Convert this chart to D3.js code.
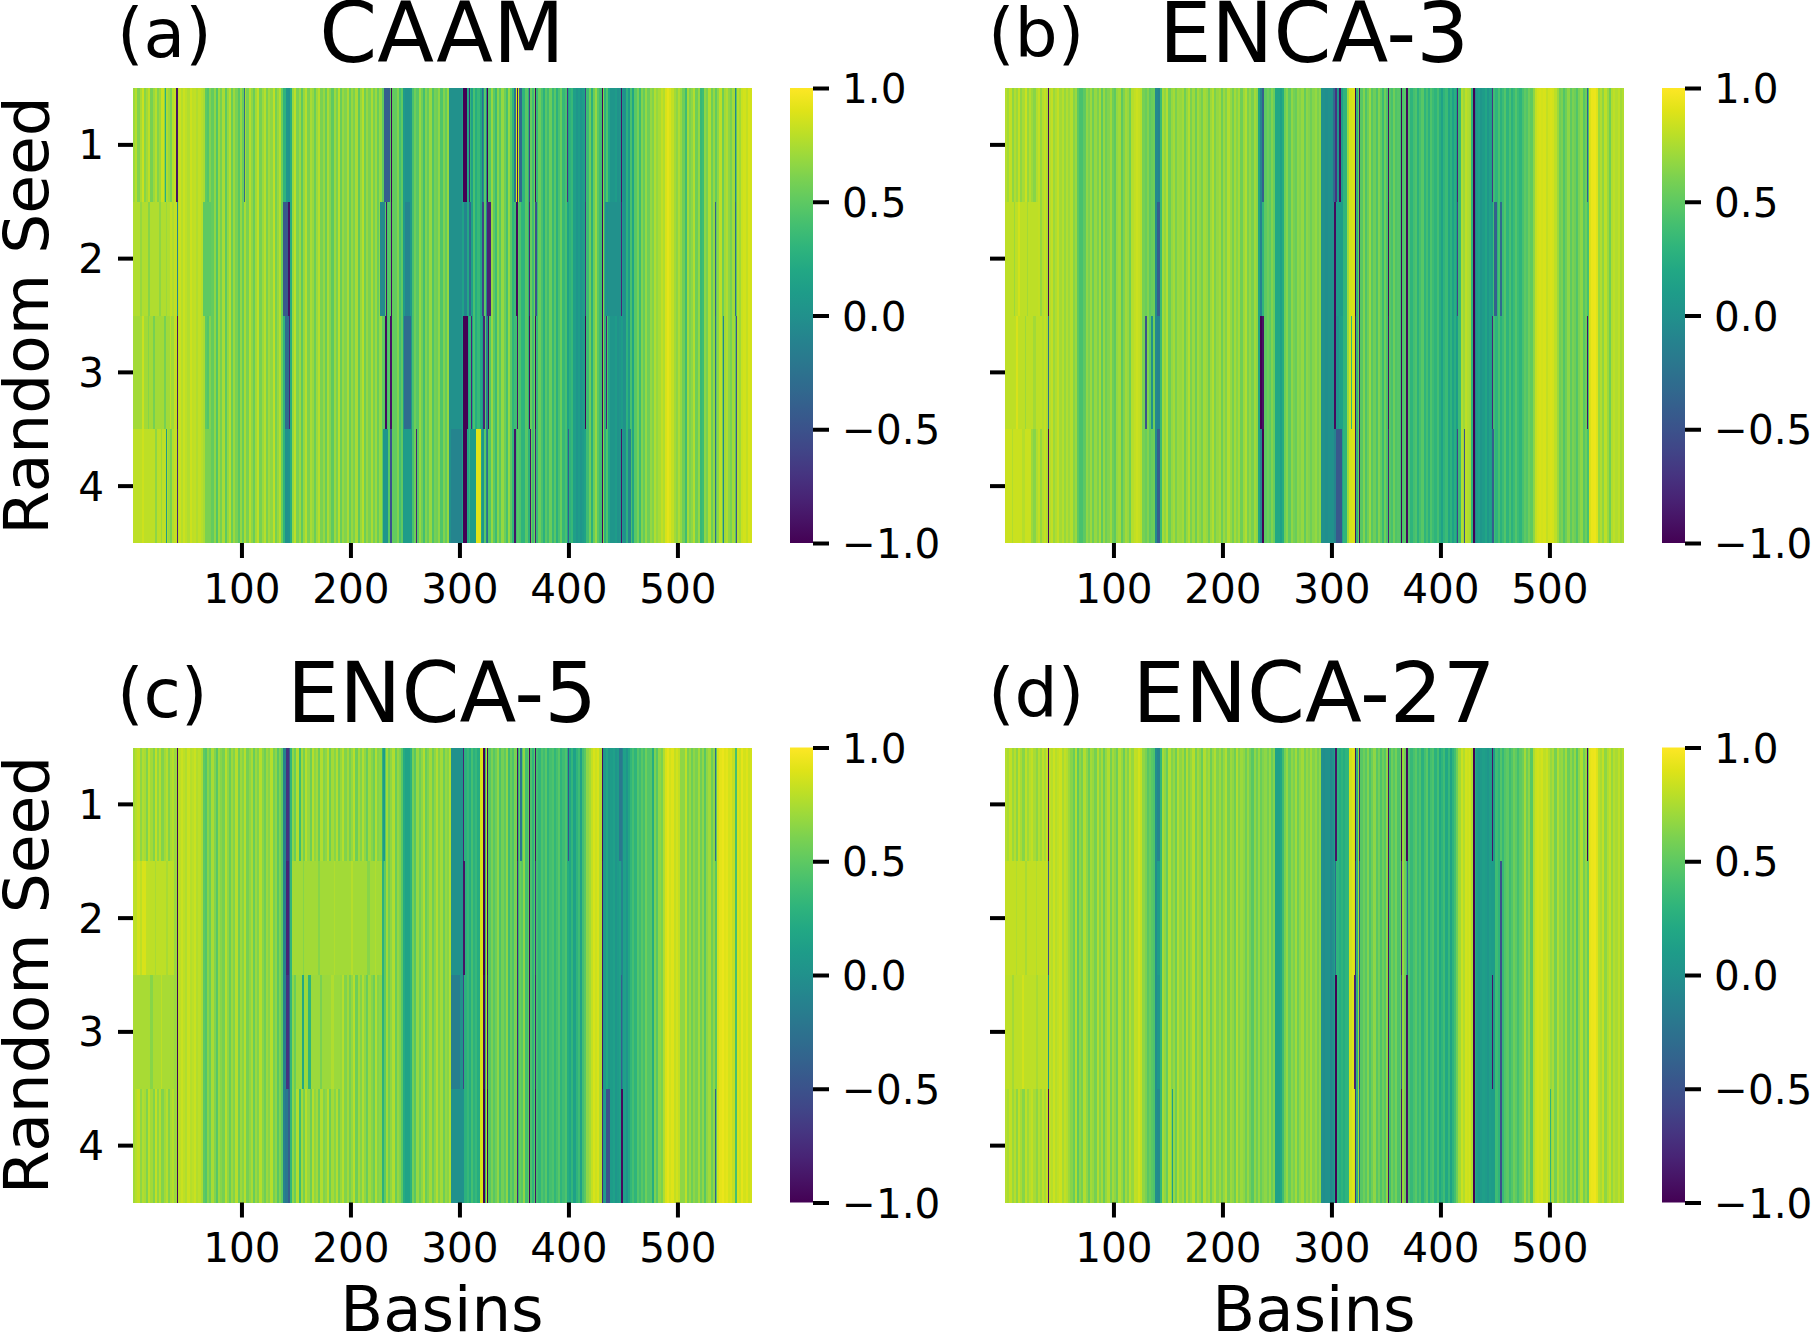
<!DOCTYPE html>
<html>
<head>
<meta charset="utf-8">
<title>Basin correlation heatmaps</title>
<script src="https://cdn.jsdelivr.net/npm/d3@7"></script>
<style>
  html, body { margin: 0; padding: 0; background: #fff; }
  svg { display: block; font-family: "DejaVu Sans", sans-serif; }
</style>
</head>
<body>
<div id="chart"></div>
<script>
// Values. One number per two basins, shared by all seeds of a panel
const caamBase = [
  .7,.78,.62,.74,.84,.64,.72,.8,.58,.7,.78,.62,.7,.84,.66,.76,.7,.6,.78,.82,
  .8,.84,.78,.84,.8,.76,.85,.8,.82,.76,.82,.78,.74,.5,.46,.62,.52,.66,.46,.7,
  .58,.74,.5,.68,.78,.54,.7,.6,.48,.68,.54,.74,.6,.78,.66,.54,.72,.8,.58,.7,
  .78,.6,.72,.66,.8,.58,.68,.78,.54,.3,.05,.03,.25,.68,.8,.6,.7,.5,.68,.78,
  .6,.74,.68,.54,.7,.78,.6,.68,.54,.74,.64,.5,.7,.6,.78,.54,.68,.62,.74,.54,
  .68,.6,.74,.5,.68,.78,.56,.68,.6,.74,.58,.7,.54,.68,.5,.48,.42,.48,.48,.52,
  .52,.62,.4,.5,.08,.03,.03,.08,.42,.56,.48,.68,.56,.4,.62,.52,.68,.45,.58,.56,
  .66,.45,.62,.52,.68,0,0,0,0,0,0,.15,.1,.2,.32,.14,.42,.24,.35,.18,
  .05,.48,-.1,.46,.68,.5,.38,.64,.48,.68,.56,.42,.68,.5,.3,.38,.48,.44,.3,.3,
  .48,.28,.54,.38,.56,.34,.54,.42,.28,.48,.38,.54,.34,.48,.28,.42,.54,.34,.42,.15,
  .28,.34,.12,.05,.1,.05,.1,.15,.38,.56,.28,.54,.68,.48,.38,.64,.28,.44,.18,.05,
  .05,.1,0,.05,.1,0,.28,.1,.42,.18,.48,.58,.38,.62,.52,.68,.56,.68,.62,.76,
  .68,.74,.82,.76,.88,.92,.88,.82,.72,.66,.76,.68,.56,.38,.72,.6,.66,.76,.56,.68,
  .34,.38,.66,.6,.76,.56,.68,.52,.66,.8,.56,.72,.76,.66,.6,.72,.48,.78,.72,.84,
  .86,.82,.88,.86
];
const encaThreeBase = [
  .78,.72,.82,.66,.76,.7,.82,.66,.74,.84,.68,.78,.7,.64,.76,.82,.68,.78,.82,.76,
  .78,.82,.7,.76,.82,.72,.78,.68,.76,.7,.78,.64,.7,.5,.42,.42,.5,.66,.6,.7,
  .56,.68,.6,.72,.5,.68,.56,.62,.7,.56,.5,.68,.72,.5,.62,.72,.68,.56,.78,.82,
  .84,.82,.78,.58,.54,.62,.5,.54,.56,-.05,-.1,.36,.72,.66,.76,.56,.68,.72,.6,.7,
  .68,.72,.56,.68,.76,.6,.7,.56,.72,.66,.58,.72,.68,.56,.7,.76,.6,.68,.72,.56,
  .7,.62,.76,.68,.58,.72,.64,.72,.56,.7,.76,.6,.68,.58,.72,.66,.18,-.1,.3,.5,
  .56,.5,.62,.54,.2,.2,.14,.24,.56,.64,.5,.66,.58,.54,.66,.62,.68,.52,.66,.62,
  .56,.64,.68,.6,.66,0,0,-.02,0,.02,0,-.2,.05,.12,.14,.3,.3,.7,.86,.88,
  .88,.3,.56,.48,.62,.44,.56,.68,.48,.56,.44,.62,.52,.36,.56,.44,.48,.42,.56,.44,
  .48,.38,.44,.48,.36,.44,.3,.4,.44,.28,.4,.48,.3,.4,.28,.44,.36,.3,.4,.26,
  .15,.3,.36,.18,.3,.15,.26,.1,.36,.76,.7,.8,.76,.74,.3,-.1,.1,.14,.05,.1,
  .18,.05,.14,.1,.38,.3,.42,.28,.36,.46,.3,.42,.28,.36,.46,.36,.3,.42,.5,.46,
  .56,.5,.66,.82,.86,.88,.86,.88,.82,.86,.88,.86,.8,.7,.56,.6,.46,.56,.66,.5,
  .6,.56,.46,.6,.66,.48,.56,.42,.88,.93,.94,.9,.7,.76,.66,.8,.7,.56,.76,.8,
  .76,.8,.72,.76
];
const encaFiveBase = [
  .72,.78,.82,.66,.76,.74,.62,.8,.72,.62,.82,.66,.78,.62,.72,.78,.62,.74,.78,.7,
  .78,.8,.84,.8,.76,.84,.78,.8,.84,.76,.8,.74,.5,.46,.64,.54,.74,.62,.48,.7,
  .64,.58,.78,.66,.54,.7,.62,.78,.56,.7,.64,.78,.58,.66,.74,.54,.7,.62,.78,.64,
  .56,.7,.64,.78,.58,.66,.48,.62,.5,-.1,-.45,-.4,.32,.66,.54,.76,.38,.72,.58,.78,
  .68,.56,.78,.66,.72,.56,.76,.62,.66,.78,.56,.72,.64,.76,.58,.68,.78,.62,.72,.58,
  .68,.78,.56,.72,.62,.76,.66,.54,.72,.64,.56,.76,.62,.66,.28,.5,.72,.56,.66,.76,
  .54,.68,.62,.48,.22,.16,.16,.28,.58,.48,.68,.56,.66,.76,.54,.62,.72,.56,.66,.76,
  .62,.72,.56,.68,.64,.76,0,0,0,0,0,.02,.28,.34,.24,.4,.28,.34,.24,.88,
  .9,.32,.78,.48,.6,.48,.56,.66,.44,.58,.5,.66,.38,.54,.44,.6,.3,.54,.48,.66,
  .4,.54,.44,.3,.48,.4,.32,.44,.38,.48,.3,.4,.44,.32,.4,.48,.3,.38,.44,.24,
  .18,.32,.14,.3,.38,.14,.4,.48,.66,.72,.82,.88,.84,.88,.76,.05,.1,.18,.05,.1,
  .14,.05,.1,.14,-.1,.14,.05,.18,.32,.4,.3,.46,.38,.48,.4,.56,.46,.48,.24,.6,
  .48,.66,.6,.76,.88,.92,.86,.9,.82,.86,.82,.66,.66,.8,.6,.68,.56,.66,.6,.72,
  .56,.66,.48,.66,.72,.56,.66,.48,.86,.92,.94,.9,.92,.86,.88,.82,.4,.88,.84,.92,
  .86,.9,.84,.86
];
const encaTwentySevenBase = [
  .78,.74,.82,.7,.78,.66,.82,.74,.64,.8,.7,.78,.82,.74,.66,.78,.7,.8,.74,.82,
  .82,.78,.85,.78,.82,.85,.74,.82,.78,.7,.64,.54,.76,.5,.66,.58,.76,.66,.54,.72,
  .68,.58,.76,.62,.72,.54,.68,.76,.58,.72,.66,.56,.76,.68,.54,.72,.62,.78,.68,.82,
  .8,.86,.82,.66,.6,.48,.54,.48,.44,-.02,-.1,.32,.72,.66,.54,.76,.62,.68,.56,.76,
  .66,.72,.56,.76,.62,.68,.78,.58,.72,.66,.54,.76,.66,.72,.56,.68,.76,.62,.7,.58,
  .68,.76,.58,.7,.66,.56,.76,.62,.7,.66,.56,.68,.58,.48,.66,.56,.68,.54,.62,.66,
  .58,.68,.54,.62,.14,.14,.18,.38,.58,.68,.54,.66,.6,.72,.56,.66,.72,.58,.68,.62,
  .72,.62,.68,.58,.66,0,-.02,0,.02,-.05,0,.14,.3,.24,.3,.24,.3,.3,.86,.9,
  .86,.3,.72,.48,.56,.48,.62,.44,.56,.66,.48,.58,.44,.56,.48,.66,.4,.56,.48,.58,
  .44,.54,.68,.56,.38,.44,.34,.42,.48,.36,.44,.28,.4,.48,.28,.4,.44,.28,.4,.2,
  .3,.38,.2,.34,.15,.3,.4,.56,.72,.84,.76,.86,.84,.86,.76,.24,.1,.05,.08,.12,
  .1,.05,.12,.1,.1,.38,.3,.46,.34,.46,.5,.38,.46,.56,.5,.4,.5,.56,.72,.56,
  .66,.48,.76,.84,.86,.84,.86,.8,.84,.76,.68,.74,.58,.76,.66,.68,.58,.72,.54,.66,
  .56,.68,.48,.66,.76,.58,.68,.54,.92,.94,.95,.9,.78,.74,.82,.66,.76,.82,.68,.78,
  .74,.8,.72,.78
];

// Per seed differences from the base: [first basin, end basin, value]
const caamSeeds = [
  [[29,30,.25],[39,41,-.9],[102,103,-.3],[230,236,-.4],[237,238,-1],[303,306,-1],[308,309,-.8],[320,321,-.3],[325,326,-1],[350,351,-.2],[351,352,.9],[352,353,-.9],[353,354,.85],[354,357,-.3],[363,364,-.6],[369,370,-.95],[398,399,-.7],[415,416,-.6],[430,431,-1],[448,449,-.9],[552,553,-.1]],
  [[0,38,.76],[6,8,.68],[14,16,.64],[24,26,.66],[30,31,.7],[34,36,.82],[40,41,-.1],[64,72,.5],[138,142,-.45],[142,144,-.9],[227,231,-.05],[232,233,-.9],[237,238,-.95],[250,254,-.1],[304,306,-.1],[308,310,-.3],[320,322,-.6],[325,328,-.8],[351,353,-.95],[363,364,-.8],[369,371,-.5],[415,416,-.7],[430,431,-1],[433,448,0],[448,449,-.8],[534,535,-.4],[552,553,-.3]],
  [[0,38,.72],[8,10,.84],[14,15,.64],[18,20,.58],[28,30,.58],[34,35,.8],[40,41,-.9],[139,143,-.3],[143,144,-.8],[231,233,-.95],[236,238,-.9],[249,255,-.3],[303,307,-1],[310,311,-.8],[321,323,-.8],[326,327,-.95],[352,353,-.9],[363,364,-.95],[369,370,-.95],[415,416,-1],[430,431,-1],[434,435,-.8],[534,535,-.3],[541,542,-.1],[553,554,-.5]],
  [[0,30,.8],[8,10,.85],[20,22,.66],[26,27,.7],[30,31,.1],[40,41,-.8],[66,72,.6],[139,142,0],[229,234,.05],[236,238,-.5],[249,255,.1],[260,261,-.8],[292,302,-.1],[303,306,-1],[309,315,.1],[315,319,.9],[325,326,-.3],[350,351,-.9],[364,365,-.9],[369,370,-.8],[399,400,-.4],[430,431,-1],[448,449,-.9],[454,457,-.1],[534,535,-.3],[541,542,-.1],[553,554,-.5]]
];
const encaThreeSeeds = [
  [[39,40,-.95],[236,238,-.4],[301,303,-.3],[303,305,-.7],[306,308,-.9],[321,322,-1],[325,326,-.9],[351,352,-.9],[363,364,-1],[368,370,-.95],[415,416,-.8],[429,431,-1],[447,448,-.7],[534,535,-.4]],
  [[0,30,.8],[8,9,.7],[12,14,.86],[20,21,.72],[39,40,-.95],[139,142,-.4],[302,304,-.95],[304,310,.1],[321,322,-1],[325,326,-.9],[351,352,-.95],[363,364,-1],[368,370,-.95],[415,416,-.6],[429,431,-1],[449,451,-.4],[454,456,-.3]],
  [[0,34,.8],[10,12,.88],[18,19,.7],[26,28,.72],[39,40,-.3],[128,130,-.5],[134,136,0],[139,142,-.1],[234,236,-1],[236,238,-.9],[302,304,-.95],[317,318,.3],[321,322,-.9],[325,326,-.9],[351,352,-.9],[363,364,-1],[368,370,-.95],[429,431,-1],[447,448,-.8],[534,535,-.9]],
  [[0,24,.84],[6,7,.76],[16,18,.78],[39,40,-.95],[139,142,-.4],[236,238,-1],[302,304,-.1],[304,309,-.45],[321,322,-.9],[325,326,-.95],[351,352,-.8],[363,364,-1],[368,370,-.95],[415,416,-.6],[421,422,-.5],[429,431,-1],[447,449,-.4]]
];
const encaFiveSeeds = [
  [[40,41,-1],[140,143,-.7],[229,231,.1],[303,304,-.8],[321,323,-1],[325,326,-.95],[352,353,-.9],[355,357,-.2],[363,364,-1],[369,370,-.9],[399,400,-.5],[430,431,-.95],[446,449,-.2],[534,535,-.3]],
  [[0,38,.8],[4,6,.86],[8,12,.88],[20,21,.74],[30,32,.74],[40,41,-1],[140,143,-.8],[146,228,.72],[156,157,.64],[170,172,.64],[184,185,.76],[200,202,.78],[215,217,.64],[222,223,.76],[303,305,-.9],[321,323,-1],[325,326,-.95],[352,353,-.8],[363,364,-1],[369,370,-.7],[430,431,-.9]],
  [[0,38,.74],[16,18,.64],[26,27,.8],[40,41,-1],[140,143,-.7],[150,190,.7],[155,157,.2],[161,163,.3],[172,173,.6],[182,184,.76],[292,300,-.15],[303,304,-.6],[321,323,-.95],[325,326,-.9],[352,353,-.8],[363,364,-1],[369,370,-.8],[430,431,-.9],[448,449,-.4]],
  [[40,41,-1],[139,142,-.2],[321,323,-1],[325,326,-1],[352,353,-.8],[363,364,-1],[369,370,-.9],[430,431,-.8],[434,438,-.5],[448,450,-.95],[534,535,-.4]]
];
const encaTwentySevenSeeds = [
  [[39,40,-.95],[139,142,-.1],[303,305,-.9],[321,322,-.9],[325,326,-.8],[351,352,-.9],[363,364,-1],[368,370,-.95],[429,431,-1],[447,448,-.9],[534,535,-1]],
  [[0,38,.82],[10,11,.76],[18,20,.74],[28,29,.76],[39,40,-.5],[139,142,.1],[303,304,-.3],[321,322,-.8],[325,326,-.5],[351,352,-.9],[363,364,-.8],[369,370,-.3],[429,431,-1],[454,456,-.5]],
  [[0,38,.8],[6,8,.72],[16,17,.86],[28,30,.74],[39,40,.05],[139,142,.05],[303,305,-1],[320,322,-.8],[325,326,-.6],[351,352,-.9],[363,364,-.5],[368,370,-.9],[429,431,-1],[447,448,-.9],[454,456,-.5]],
  [[39,40,-.95],[139,142,-.05],[153,154,.1],[303,305,-1],[321,322,-.7],[325,326,-.3],[351,352,-.9],[363,364,-.9],[368,370,-.9],[429,431,-1],[454,456,-.5],[500,501,.3]]
];

const panelLetters = ["(a)", "(b)", "(c)", "(d)"];
const panelTitles = ["CAAM", "ENCA-3", "ENCA-5", "ENCA-27"];
const panelBases = [caamBase, encaThreeBase, encaFiveBase, encaTwentySevenBase];
const panelSeeds = [caamSeeds, encaThreeSeeds, encaFiveSeeds, encaTwentySevenSeeds];
const seedLabels = [1, 2, 3, 4];
const basinTicks = [100, 200, 300, 400, 500];
const colorTicks = [-1, -0.5, 0, 0.5, 1];
const basinCount = 567;

const width = 1812;
const height = 1336;
const plotWidth = 618;
const plotHeight = 455;
const panelLeft = [133, 1005];
const panelTop = [88, 747.5];
const tickFont = 40.5;

const svg = d3.select("#chart").append("svg")
  .attr("width", width)
  .attr("height", height);

const color = d3.scaleSequential(d3.interpolateViridis).domain([-1, 1]);

// Colorbar gradient
const gradient = svg.append("defs").append("linearGradient")
  .attr("id", "viridis")
  .attr("x1", 0).attr("y1", 1)
  .attr("x2", 0).attr("y2", 0);
gradient.selectAll("stop")
  .data(d3.range(0, 1.01, 0.05))
  .enter()
  .append("stop")
  .attr("offset", d => d)
  .attr("stop-color", d => d3.interpolateViridis(d));

// Every basin of a seed: base value, then that seed's differences
function seedRow(base, edits) {
  const row = d3.range(basinCount).map(i => base[i >> 1]);
  edits.forEach(([start, end, value]) => {
    for (let i = start; i < end; i++) row[i] = value;
  });
  return row;
}

function styleAxis(axisGroup) {
  axisGroup.select(".domain").remove();
  axisGroup.selectAll("line").attr("stroke", "#000").attr("stroke-width", 4);
  axisGroup.selectAll("text")
    .attr("fill", "#000")
    .attr("font-size", tickFont)
    .attr("font-family", '"DejaVu Sans", sans-serif');
}

function drawPanel(index) {
  const col = index % 2;
  const rowIndex = Math.floor(index / 2);
  const left = panelLeft[col];
  const top = panelTop[rowIndex];
  const g = svg.append("g").attr("transform", `translate(${left},${top})`);

  const x = d3.scaleLinear().domain([0, basinCount]).range([0, plotWidth]);
  const y = d3.scaleBand().domain(seedLabels).range([0, plotHeight]);

  // Cells
  seedLabels.forEach((seed, s) => {
    g.append("g")
      .attr("shape-rendering", "crispEdges")
      .selectAll("rect")
      .data(seedRow(panelBases[index], panelSeeds[index][s]))
      .enter()
      .append("rect")
      .attr("x", (d, i) => x(i))
      .attr("y", y(seed))
      .attr("width", (d, i) => x(i + 1) - x(i) + 0.5)
      .attr("height", y.bandwidth())
      .attr("fill", d => color(d));
  });

  // Axes, basin n sits in the middle of its cell
  const xAxis = d3.axisBottom(x)
    .tickValues(basinTicks.map(d => d - 0.5))
    .tickFormat(d => d + 0.5)
    .tickSize(15)
    .tickPadding(16);
  const xGroup = g.append("g").attr("transform", `translate(0,${plotHeight})`).call(xAxis);
  styleAxis(xGroup);

  const yAxis = d3.axisLeft(y)
    .tickSize(15)
    .tickPadding(14)
    .tickFormat(d => col === 0 ? d : "");
  const yGroup = g.append("g").call(yAxis);
  styleAxis(yGroup);
  yGroup.selectAll("text").attr("dy", "0.36em");

  // Colorbar
  const bar = g.append("g").attr("transform", `translate(${plotWidth + 39},0)`);
  bar.append("rect")
    .attr("width", 23)
    .attr("height", plotHeight)
    .attr("fill", "url(#viridis)");
  const barScale = d3.scaleLinear().domain([-1, 1]).range([plotHeight, 0]);
  const barAxis = d3.axisRight(barScale)
    .tickValues(colorTicks)
    .tickFormat(d3.format(".1f"))
    .tickSize(16)
    .tickPadding(13);
  const barGroup = bar.append("g").attr("transform", "translate(23,0)").call(barAxis);
  styleAxis(barGroup);
  barGroup.selectAll("text").attr("dy", "0.36em");

  // Titles
  g.append("text")
    .attr("x", plotWidth / 2)
    .attr("y", -26)
    .attr("text-anchor", "middle")
    .attr("font-size", 83)
    .text(panelTitles[index]);
  g.append("text")
    .attr("x", col === 0 ? -16 : -17)
    .attr("y", -31)
    .attr("font-size", 68)
    .text(panelLetters[index]);

  if (col === 0) {
    g.append("text")
      .attr("transform", `translate(-85,${plotHeight / 2}) rotate(-90)`)
      .attr("text-anchor", "middle")
      .attr("font-size", 63)
      .text("Random Seed");
  }
  if (rowIndex === 1) {
    g.append("text")
      .attr("x", plotWidth / 2)
      .attr("y", plotHeight + 128)
      .attr("text-anchor", "middle")
      .attr("font-size", 62.5)
      .text("Basins");
  }
}

d3.range(4).forEach(drawPanel);
</script>
</body>
</html>
